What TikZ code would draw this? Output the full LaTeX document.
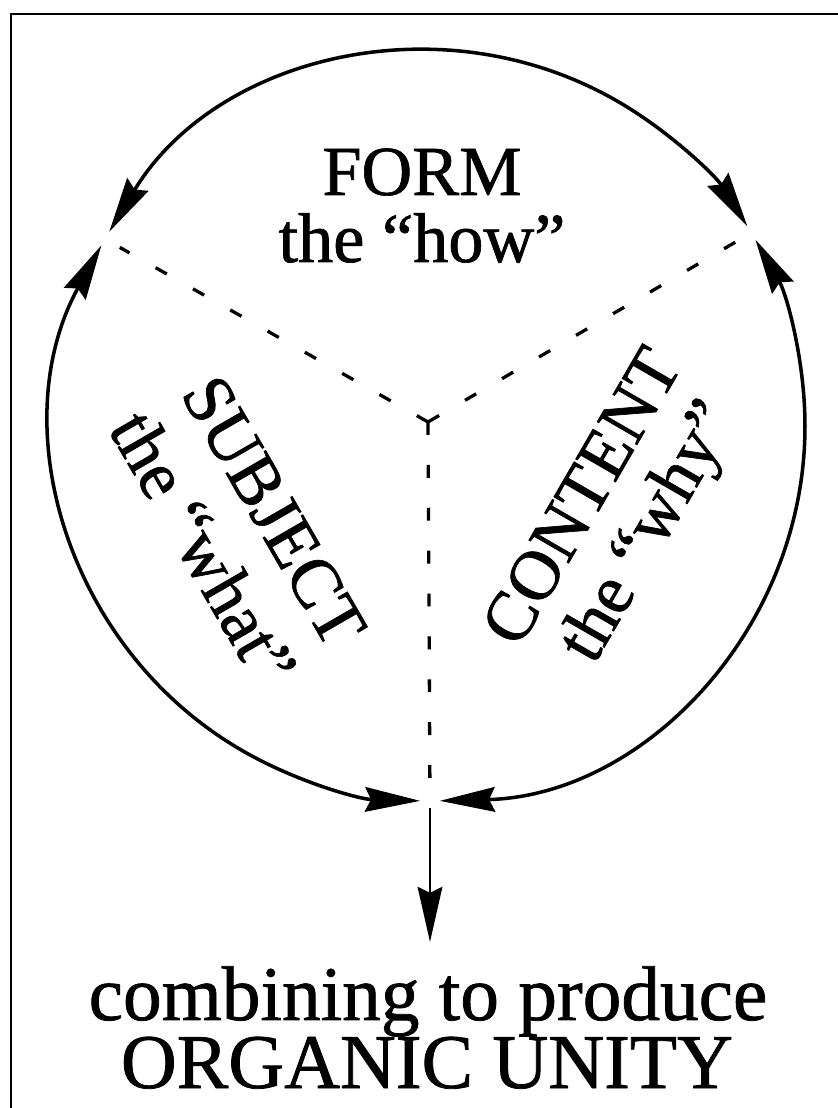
\documentclass[tikz,border=0pt]{standalone}
\usepackage{fontspec}
\setmainfont{Liberation Serif}[FakeBold=1]
\usetikzlibrary{arrows.meta}

\begin{document}
\begin{tikzpicture}[x=0.03cm, y=0.03cm,
    >={Stealth[length=47pt, width=21pt, inset=5pt]},
    rim/.style={line width=3pt},
    spoke/.style={line width=2.8pt, dash pattern=on 11pt off 25.6pt, shorten >=14.5pt},
    lbl/.style={font=\fontsize{60}{66}\selectfont, inner sep=0pt},
    biglbl/.style={font=\fontsize{66}{70}\selectfont, inner sep=0pt}]
    \useasboundingbox (0,0) rectangle (838,1108);
    % frame
    \draw[line width=2.2pt] (11,0) -- (11,1094) -- (838,1094);
    \coordinate (O) at (430,682);
    \coordinate (hub) at (428,686);
    \coordinate (jform) at (105,869);
    \coordinate (jcontent) at (751,875);
    \coordinate (jbottom) at (430,307);
    \coordinate (unitytip) at (430,166);
    % Arcs between the three corners
    \draw[rim, <->] (O) ++(148.8:375) arc[start angle=148.8, end angle=32.2, radius=375];
    \draw[rim, <->] (O) ++(151.2:375) arc[start angle=151.2, end angle=268.5, radius=375];
    \draw[rim, <->] (O) ++(271.5:375) arc[start angle=271.5, end angle=389.8, radius=375];
    % Dashed spokes
    \draw[spoke] (hub) -- (jform);
    \draw[spoke] (hub) -- (jcontent);
    \draw[spoke] (hub) -- (jbottom);
    % Down arrow
    \draw[line width=2.4pt, ->, shorten <=6pt] (jbottom) -- (unitytip);
    % Labels
    \node[lbl, anchor=base] (form) at (422,913) {FORM};
    \node[lbl, anchor=base] (how) at (422,846) {the “how”};
    \node[lbl, rotate=-60] (subject) at (274,597) {SUBJECT};
    \node[lbl, rotate=-60] (what) at (204,560) {the “what”};
    \node[lbl, rotate=60] (content) at (581,612) {CONTENT};
    \node[lbl, rotate=60] (why) at (651,575) {the “why”};
    \node[biglbl, anchor=base] (combining) at (428,88) {combining to produce};
    \node[biglbl, anchor=base] (unity) at (427,20) {ORGANIC UNITY};
\end{tikzpicture}
\end{document}
